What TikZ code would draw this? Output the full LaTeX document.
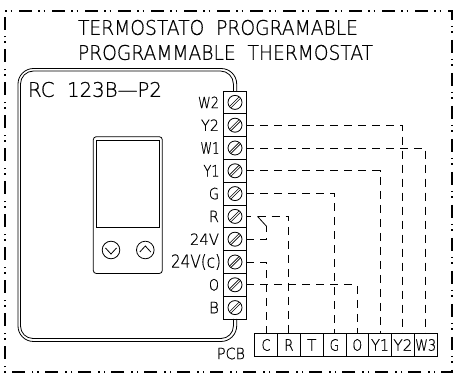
\documentclass[tikz,border=0pt]{standalone}
\usepackage{graphicx}
\usepackage{fontspec}
\setmainfont[FakeBold=0.6]{DejaVu Sans ExtraLight}
\usetikzlibrary{calc}
\newcommand{\lab}[3]{\resizebox{#1pt}{#2pt}{#3}}
\tikzset{
  every picture/.style={x=1pt,y=-1pt},
  frameline/.style={line width=1.2pt,dash pattern=on 13pt off 6pt on 1.5pt off 4pt on 1.5pt off 7pt},
  wire/.style={line width=.9pt,dash pattern=on 8pt off 6pt},
  solidline/.style={line width=.8pt},
  cellbox/.style={draw,line width=.8pt,minimum width=22.8pt,minimum height=22.8pt,inner sep=0pt,outer sep=0pt,anchor=north west},
  termbox/.style={cellbox,minimum width=22.6pt},
  txt/.style={inner sep=0pt,outer sep=0pt,text=black},
  tlab/.style={txt,anchor=east},
}
\newcommand{\screw}[1]{%
  \draw[solidline] (#1) circle (7pt);
  \draw[line width=.6pt] ($(#1)+(-5.6,4.2)$) -- ($(#1)+(4.2,-5.6)$);
  \draw[line width=.6pt] ($(#1)+(-4.2,5.6)$) -- ($(#1)+(5.6,-4.2)$);
}
\begin{document}
\begin{tikzpicture}
\useasboundingbox (0,0) rectangle (459,374);
\fill[white] (0,0) rectangle (459,374);
% outer frame
\draw[frameline] (5,30) -- (5,11) -- (452,11) -- (452,372) -- (5,372) -- cycle;
% titles
\node[txt,anchor=west] (title1) at (78,27.5) {\lab{280}{15}{TERMOSTATO\ \ PROGRAMABLE}};
\node[txt,anchor=west] (title2) at (78,52.5) {\lab{295}{15}{PROGRAMMABLE\ \ THERMOSTAT}};
% thermostat body
\draw[solidline] (236.7,91) -- (236.7,84) arc[start angle=0,end angle=-90,radius=15.5] -- (33.5,68.5)
  arc[start angle=-90,end angle=-180,radius=15.5] -- (18,326) arc[start angle=180,end angle=90,radius=15.5]
  -- (221,341.5) arc[start angle=90,end angle=0,radius=15.7] -- (236.7,319);
\draw[solidline] (233.4,91) -- (233.4,84) arc[start angle=0,end angle=-90,radius=13] -- (33.5,71)
  arc[start angle=-90,end angle=-180,radius=13] -- (20.5,326) arc[start angle=180,end angle=90,radius=12.5]
  -- (221,338.5) arc[start angle=90,end angle=0,radius=12.4] -- (233.4,319);
\node[txt,anchor=west] (model) at (28,89.5) {\lab{134}{15}{RC\ \ 123B---P2}};
% display
\draw[solidline,rounded corners=3pt] (93.3,136.7) rectangle (162.3,273.5);
\draw[solidline] (96.7,140) rectangle (159.3,227.7);
\draw[solidline] (111,250) circle (8.8pt);
\draw[solidline] (145.3,250) circle (8.8pt);
\draw[solidline] (105.5,248) -- (111,254) -- (116.5,248);
\draw[solidline] (139.8,252) -- (145.3,246) -- (150.8,252);
% terminal block
\foreach \n/\y in {W2/91,Y2/113.8,W1/136.6,Y1/159.4,G/182.2,R/205,V/227.8,C/250.6,O/273.4,B/296.2}{
  \node[termbox] (t\n) at (223.7,\y) {};
  \screw{t\n.center}
}
\node[tlab] (lw2) at (219,102.4) {\lab{21}{11.5}{W2}};
\node[tlab] (ly2) at (219,125.2) {\lab{18}{11.5}{Y2}};
\node[tlab] (lw1) at (219.5,148) {\lab{19}{11.5}{W1}};
\node[tlab] (ly1) at (219.5,170.8) {\lab{16}{11.5}{Y1}};
\node[tlab] (lg) at (219,193.6) {\lab{10}{11.5}{G}};
\node[tlab] (lr) at (219,216.4) {\lab{10}{11.5}{R}};
\node[tlab] (lv) at (219,239.2) {\lab{29}{11.5}{24V}};
\node[tlab] (lc) at (221,262) {\lab{50}{13.5}{24V(c)}};
\node[tlab] (lo) at (219,284.8) {\lab{10}{11.5}{O}};
\node[tlab] (lb) at (219,307.6) {\lab{10}{11.5}{B}};
% PCB connector
\foreach \n/\x in {C/254.7,R/277.5,T/300.3,G/323.1,O/345.9,Yo/368.7,Yt/391.5,Wt/414.3}{
  \node[cellbox] (p\n) at (\x,333.6) {};
}
\node[txt] (cc) at (pC.center) {\lab{9}{11.5}{C}};
\node[txt] (cr) at (pR.center) {\lab{9.5}{11.5}{R}};
\node[txt] (ct) at (pT.center) {\lab{9.5}{11.5}{T}};
\node[txt] (cg) at (pG.center) {\lab{9.5}{11.5}{G}};
\node[txt] (co) at (pO.center) {\lab{9.5}{11.5}{O}};
\node[txt] (cyo) at (pYo.center) {\lab{18}{11.5}{Y1}};
\node[txt] (cyt) at (pYt.center) {\lab{19}{11.5}{Y2}};
\node[txt] (cwt) at (pWt.center) {\lab{21}{11.5}{W3}};
\node[txt,anchor=east] (pcb) at (245,353.5) {\lab{28}{11.5}{PCB}};
% wires
\draw[wire] (tY2.east) -| (pYt.north);
\draw[wire] (tW1.east) -| (pWt.north);
\draw[wire] (tY1.east) -| (pYo.north);
\draw[wire] (tG.east) -| (pG.north);
\draw[wire] (tO.east) -| (pO.north);
\draw[wire] (tC.east) -| (pC.north);
\coordinate (swa) at (257.5,216.4);
\coordinate (swb) at (266.7,226.5);
\draw[wire] (tR.east) -- (251,216.4);
\draw[wire] (swa) -| (pR.north);
\draw[solidline] (swa) -- (swb);
\draw[wire] (tV.east) -| (swb);
\end{tikzpicture}
\end{document}
